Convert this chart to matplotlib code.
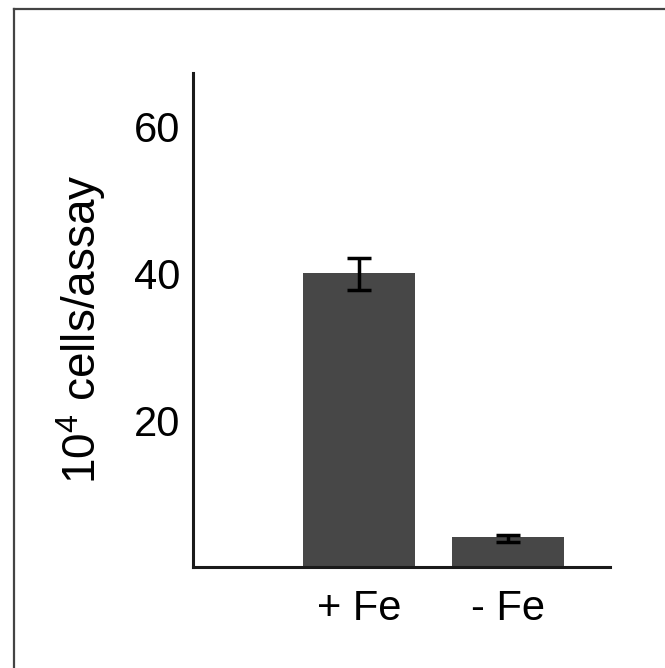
import matplotlib.pyplot as plt
from matplotlib.lines import Line2D

groups = ['+ Fe', '- Fe']
cells = [40.0, 4.1]
err_low = [2.3, 0.7]
err_high = [2.1, 0.3]
yticks = [20, 40, 60]

plt.rcParams['font.family'] = ['Liberation Sans', 'DejaVu Sans']
plt.rcParams['mathtext.default'] = 'regular'

fig = plt.figure(figsize=(6.65, 6.68), dpi=100)
ax = fig.add_axes([193/665, 1-567/668, (610-193)/665, (567-73)/668])

x = list(range(len(groups)))
ax.bar(x, cells, width=0.75, color='#474747')
ax.errorbar(x, cells, yerr=[err_low, err_high], fmt='none', ecolor='black',
            elinewidth=2.5, capsize=8.5, capthick=2.5)

ax.set_xlim(-1.114, 1.685)
ax.set_ylim(0, 67.3)
ax.set_xticks(x)
ax.set_xticklabels(groups, fontsize=30)
ax.set_yticks(yticks)
ax.set_yticklabels([str(v) for v in yticks], fontsize=30)
ax.tick_params(axis='y', length=0, pad=9)
ax.tick_params(axis='x', length=0, pad=16)
for s in ['top', 'right']:
    ax.spines[s].set_visible(False)
for s in ['left', 'bottom']:
    ax.spines[s].set_linewidth(2.2)
    ax.spines[s].set_color('#1a1a1a')

ax.set_ylabel(r'$10^4$ cells/assay', fontsize=33)
ax.yaxis.set_label_coords(-0.203, 0.482)

# frame round the figure (left and top edges only visible)
fig.add_artist(Line2D([14/665, 14/665], [0, 1-9/668], color='#444444', lw=1.6))
fig.add_artist(Line2D([14/665, 1], [1-9/668, 1-9/668], color='#444444', lw=1.6))

fig.savefig('out.png', dpi=100)
